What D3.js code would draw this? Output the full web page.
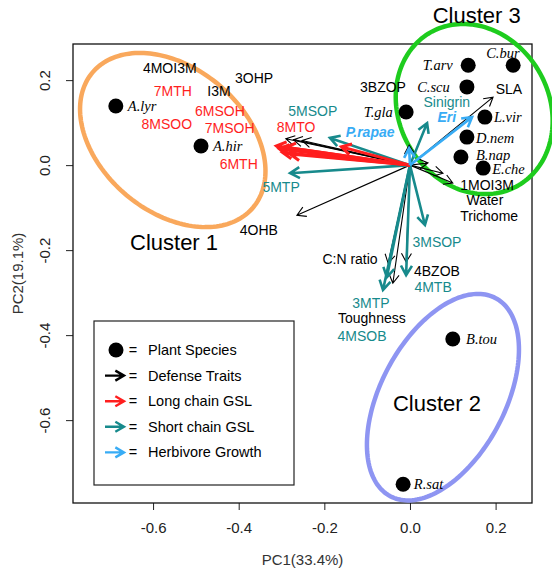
<!DOCTYPE html>
<html>
<head>
<meta charset="utf-8">
<script src="https://cdn.jsdelivr.net/npm/d3@7"></script>
<style>
  body { margin: 0; background: #fff; }
  svg { display: block; }
</style>
</head>
<body>
<svg id="chart" width="552" height="571"></svg>
<script>
// ---- Plant species scores on PC1 / PC2 ----
const species    = ["A.lyr", "A.hir", "T.gla", "T.arv", "C.bur", "C.scu", "L.vir", "D.nem", "B.nap", "E.che", "B.tou", "R.sat"];
const speciesPC1 = [-0.687, -0.488, -0.009, 0.136, 0.241, 0.133, 0.175, 0.133, 0.119, 0.171, 0.100, -0.016];
const speciesPC2 = [ 0.139,  0.045,  0.125, 0.235, 0.235, 0.184, 0.113, 0.066, 0.019, -0.007, -0.409, -0.751];
// species name anchors (data units) and text anchoring
const speciesLabelPC1 = [-0.659, -0.460, -0.040, 0.100, 0.217, 0.093, 0.196, 0.154, 0.154, 0.192, 0.131, 0.009];
const speciesLabelPC2 = [ 0.139,  0.045,  0.125, 0.235, 0.264, 0.184, 0.113, 0.064, 0.025, -0.010, -0.409, -0.751];
const speciesAnchor   = ["start", "start", "end", "end", "middle", "end", "start", "start", "start", "start", "start", "start"];

// ---- Trait loadings (arrows from the origin) ----
const traits = [
  "4MOI3M", "I3M", "3OHP", "3BZOP", "4OHB", "1MOI3M", "Water", "Trichome", "SLA", "C:N ratio", "4BZOB", "Toughness",
  "7MTH", "6MSOH", "8MSOO", "7MSOH", "6MTH", "8MTO",
  "5MSOP", "5MTP", "Sinigrin", "3MSOP", "3MTP", "4MTB", "4MSOB",
  "P.rapae", "Eri"
];
const traitGroup = [
  "defense", "defense", "defense", "defense", "defense", "defense", "defense", "defense", "defense", "defense", "defense", "defense",
  "long", "long", "long", "long", "long", "long",
  "short", "short", "short", "short", "short", "short", "short",
  "herbivore", "herbivore"
];
const traitPC1 = [
  -0.290, -0.272, -0.252, -0.002, -0.264, 0.100, 0.077, 0.042, 0.194, -0.051, -0.009, -0.040,
  -0.312, -0.305, -0.298, -0.290, -0.280, -0.160,
  -0.187, -0.280, 0.040, 0.035, -0.063, -0.009, -0.054,
  -0.002, 0.145
];
const traitPC2 = [
  0.062, 0.060, 0.058, 0.047, -0.118, -0.042, -0.019, 0.005, 0.160, -0.231, -0.228, -0.278,
  0.045, 0.038, 0.030, 0.042, 0.026, 0.043,
  0.064, -0.019, 0.099, -0.141, -0.294, -0.259, -0.264,
  0.040, 0.113
];
// trait name anchors (data units, text centred)
const traitLabelPC1 = [
  -0.561, -0.446, -0.364, -0.063, -0.353, 0.180, 0.175, 0.185, 0.231, -0.140, 0.063, -0.089,
  -0.554, -0.444, -0.568, -0.421, -0.400, -0.266,
  -0.227, -0.301, 0.086, 0.063, -0.091, 0.054, -0.112,
  -0.093, 0.086
];
const traitLabelPC2 = [
  0.228, 0.174, 0.205, 0.184, -0.153, -0.046, -0.082, -0.119, 0.179, -0.221, -0.249, -0.360,
  0.174, 0.127, 0.096, 0.087, 0.002, 0.089,
  0.127, -0.052, 0.148, -0.181, -0.325, -0.287, -0.402,
  0.078, 0.113
];

// ---- Cluster ellipses (centre and semi-axes in data units, rotation in degrees) ----
const clusterNames   = ["Cluster 1", "Cluster 2", "Cluster 3"];
const clusterPC1     = [-0.554, 0.077, 0.150];
const clusterPC2     = [ 0.059, -0.546, 0.132];
const clusterSemiA   = [0.245, 0.262, 0.206];
const clusterSemiB   = [0.168, 0.145, 0.175];
const clusterAngle   = [40, -62, 60];
const clusterTitlePC1 = [-0.551, 0.063, 0.156];
const clusterTitlePC2 = [-0.181, -0.562, 0.353];

// ---- Axis ticks and titles ----
const xTicks = [-0.6, -0.4, -0.2, 0.0, 0.2];
const yTicks = [-0.6, -0.4, -0.2, 0.0, 0.2];
const xTitle = "PC1(33.4%)";
const yTitle = "PC2(19.1%)";

// ---- Legend ----
const legendLabels = ["Plant Species", "Defense Traits", "Long chain GSL", "Short chain GSL", "Herbivore Growth"];
const legendKinds  = ["point", "defense", "long", "short", "herbivore"];

const colors = {
  defense: "#000000",
  long: "#FF1E1E",
  short: "#178A8C",
  herbivore: "#38ACF5"
};
const widths = { defense: 1.1, long: 3, short: 2.6, herbivore: 2.6 };
const clusterColors = ["#F9A85C", "#8E95F2", "#1ECC1E"];

const sans = "'Liberation Sans', Arial, Helvetica, sans-serif";
const serif = "'Liberation Serif', 'Times New Roman', serif";

const svg = d3.select("#chart");
const plot = { left: 73, right: 532, top: 44, bottom: 503 };

const x = d3.scaleLinear().domain([-0.787, 0.285]).range([plot.left, plot.right]);
const y = d3.scaleLinear().domain([-0.795, 0.285]).range([plot.bottom, plot.top]);
const pxPerUnit = x(1) - x(0);

// ---- axes ----
const xAxis = svg.append("g")
  .attr("transform", `translate(0,${plot.bottom})`)
  .call(d3.axisBottom(x).tickValues(xTicks).tickSize(7).tickPadding(12)
        .tickFormat(d => d.toFixed(1)));
xAxis.select(".domain").remove();
xAxis.selectAll("text").style("font-family", sans).style("font-size", "15px").attr("fill", "#222");
xAxis.selectAll("line").attr("stroke", "#222");

const yAxis = svg.append("g")
  .attr("transform", `translate(${plot.left},0)`)
  .call(d3.axisLeft(y).tickValues(yTicks).tickSize(7).tickFormat(d => d.toFixed(1)));
yAxis.select(".domain").remove();
yAxis.selectAll("line").attr("stroke", "#222");
yAxis.selectAll("text")
  .attr("transform", "rotate(-90)")
  .attr("x", 0).attr("y", -23).attr("dy", 0)
  .attr("text-anchor", "middle")
  .attr("fill", "#222")
  .style("font-family", sans).style("font-size", "15px");

svg.append("rect")
  .attr("x", plot.left).attr("y", plot.top)
  .attr("width", plot.right - plot.left).attr("height", plot.bottom - plot.top)
  .attr("fill", "none").attr("stroke", "#111").attr("stroke-width", 1.3);

svg.append("text")
  .attr("x", (plot.left + plot.right) / 2).attr("y", 565)
  .attr("text-anchor", "middle")
  .attr("fill", "#333")
  .style("font-family", sans).style("font-size", "15px")
  .text(xTitle);

svg.append("text")
  .attr("transform", `translate(23,${(plot.top + plot.bottom) / 2}) rotate(-90)`)
  .attr("text-anchor", "middle")
  .attr("fill", "#333")
  .style("font-family", sans).style("font-size", "15px")
  .text(yTitle);

// ---- cluster ellipses ----
const ellipseLine = d3.line().curve(d3.curveLinearClosed);
clusterNames.forEach((name, i) => {
  const cx = x(clusterPC1[i]), cy = y(clusterPC2[i]);
  const a = clusterSemiA[i] * pxPerUnit, b = clusterSemiB[i] * pxPerUnit;
  const th = clusterAngle[i] * Math.PI / 180;
  const pts = d3.range(0, 2 * Math.PI, Math.PI / 90).map(t => [
    cx + a * Math.cos(t) * Math.cos(th) - b * Math.sin(t) * Math.sin(th),
    cy + a * Math.cos(t) * Math.sin(th) + b * Math.sin(t) * Math.cos(th)
  ]);
  svg.append("path")
    .attr("d", ellipseLine(pts))
    .attr("fill", "none")
    .attr("stroke", clusterColors[i])
    .attr("stroke-width", 4.5);
  svg.append("text")
    .attr("x", x(clusterTitlePC1[i])).attr("y", y(clusterTitlePC2[i]))
    .attr("text-anchor", "middle").attr("dominant-baseline", "central")
    .style("font-family", sans).style("font-size", "22px")
    .text(name);
});

// ---- arrows ----
function arrowPath(x0, y0, x1, y1, head) {
  const ang = Math.atan2(y1 - y0, x1 - x0);
  const spread = Math.PI / 6;
  const hx1 = x1 - head * Math.cos(ang - spread), hy1 = y1 - head * Math.sin(ang - spread);
  const hx2 = x1 - head * Math.cos(ang + spread), hy2 = y1 - head * Math.sin(ang + spread);
  return `M${x0},${y0}L${x1},${y1}M${hx1},${hy1}L${x1},${y1}L${hx2},${hy2}`;
}

const drawOrder = ["defense", "short", "long", "herbivore"];
const arrowG = svg.append("g");
drawOrder.forEach(g => {
  traits.forEach((t, i) => {
    if (traitGroup[i] !== g) return;
    arrowG.append("path")
      .attr("d", arrowPath(x(0), y(0), x(traitPC1[i]), y(traitPC2[i]), g === "defense" ? 10 : 11))
      .attr("fill", "none")
      .attr("stroke", colors[g])
      .attr("stroke-width", widths[g])
      .attr("stroke-linejoin", "miter")
      .attr("stroke-linecap", "butt");
  });
});

// ---- trait labels ----
svg.append("g").selectAll("text")
  .data(traits)
  .join("text")
  .attr("x", (d, i) => x(traitLabelPC1[i]))
  .attr("y", (d, i) => y(traitLabelPC2[i]))
  .attr("text-anchor", "middle")
  .attr("dominant-baseline", "central")
  .attr("fill", (d, i) => colors[traitGroup[i]])
  .style("font-family", sans)
  .style("font-size", "14px")
  .style("font-weight", (d, i) => traitGroup[i] === "herbivore" ? "bold" : "normal")
  .style("font-style", (d, i) => traitGroup[i] === "herbivore" ? "italic" : "normal")
  .text(d => d);

// ---- species points and names ----
svg.append("g").selectAll("circle")
  .data(species)
  .join("circle")
  .attr("cx", (d, i) => x(speciesPC1[i]))
  .attr("cy", (d, i) => y(speciesPC2[i]))
  .attr("r", 7.5)
  .attr("fill", "#000");

svg.append("g").selectAll("text")
  .data(species)
  .join("text")
  .attr("x", (d, i) => x(speciesLabelPC1[i]))
  .attr("y", (d, i) => y(speciesLabelPC2[i]))
  .attr("text-anchor", (d, i) => speciesAnchor[i])
  .attr("dominant-baseline", "central")
  .style("font-family", serif)
  .style("font-style", "italic")
  .style("font-size", "14.5px")
  .text(d => d);

// ---- legend ----
const legend = svg.append("g");
legend.append("rect")
  .attr("x", 94).attr("y", 321).attr("width", 200).attr("height", 164)
  .attr("fill", "#fff").attr("stroke", "#222").attr("stroke-width", 1.2);
legendLabels.forEach((lab, i) => {
  const ly = 350 + i * 25.6;
  const kind = legendKinds[i];
  if (kind === "point") {
    legend.append("circle").attr("cx", 116).attr("cy", ly).attr("r", 7.5).attr("fill", "#000");
  } else {
    legend.append("path")
      .attr("d", arrowPath(105, ly, 124, ly, 10))
      .attr("fill", "none")
      .attr("stroke", colors[kind])
      .attr("stroke-width", 2.4);
  }
  legend.append("text")
    .attr("x", 133).attr("y", ly)
    .attr("text-anchor", "middle").attr("dominant-baseline", "central")
    .style("font-family", sans).style("font-size", "14.5px")
    .text("=");
  legend.append("text")
    .attr("x", 148).attr("y", ly)
    .attr("dominant-baseline", "central")
    .style("font-family", sans).style("font-size", "14.5px")
    .text(lab);
});
</script>
</body>
</html>
